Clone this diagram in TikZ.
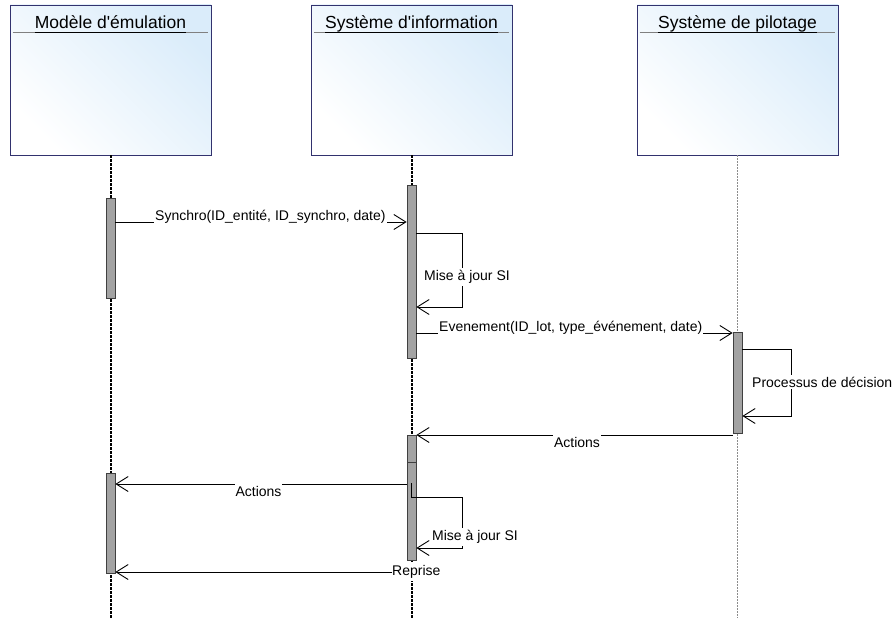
\documentclass[tikz,border=0pt]{standalone}
\usepackage{fontspec}
\setmainfont{Liberation Sans}
\usepackage{tikz}
\usetikzlibrary{arrows.meta, positioning, calc}

\definecolor{boxedge}{RGB}{50,50,110}
\definecolor{boxblue}{RGB}{218,236,250}
\definecolor{barfill}{RGB}{163,163,163}

\begin{document}
\begin{tikzpicture}[
    x=1pt, y=-1pt,
    lifebox/.style={rectangle, draw=boxedge, line width=0.9pt, shading=axis,
                    top color=boxblue, bottom color=white, shading angle=-45,
                    minimum width=201pt, minimum height=150pt, inner sep=0pt},
    title/.style={font=\fontsize{17.5}{20}\selectfont, inner sep=0pt},
    sep/.style={draw=black!50, line width=0.8pt},
    ul/.style={draw=black, line width=0.9pt},
    life/.style={draw=black, line width=2pt, dash pattern=on 3pt off 1pt},
    lifelight/.style={draw=black!45, line width=0.8pt, dash pattern=on 2pt off 1pt},
    bar/.style={rectangle, draw=black!75, fill=barfill, line width=0.7pt,
                minimum width=9pt, inner sep=0pt},
    msg/.style={draw=black, line width=0.9pt, -{Straight Barb[length=12pt, width=15pt]}},
    lbl/.style={fill=white, inner xsep=1pt, inner ysep=2pt,
                font=\fontsize{14}{16}\selectfont}
]
\useasboundingbox (0,0) rectangle (895,618);
\coordinate (bot) at (0,618);

% lifeline heads
\node[lifebox] (b1) at (110.5,80) {};
\node[lifebox] (b2) at (411.5,80) {};
\node[lifebox] (b3) at (737.5,80) {};

\foreach \b in {b1, b2, b3}
  \draw[sep] ([xshift=3pt, yshift=-28pt]\b.north west) -- ([xshift=-3pt, yshift=-28pt]\b.north east);

\node[title, anchor=base] (t1) at ([yshift=-24pt]b1.north) {Modèle d\textquotesingle émulation};
\node[title, anchor=base] (t2) at ([yshift=-24pt]b2.north) {Système d\textquotesingle information};
\node[title, anchor=base] (t3) at ([yshift=-24pt]b3.north) {Système de pilotage};

\foreach \t in {t1, t2, t3}
  \draw[ul] ([yshift=-4pt]\t.base west) -- ([yshift=-4pt]\t.base east);

% lifelines
\draw[life] (b1.south) -- (b1 |- bot);
\draw[life] (b2.south) -- (b2 |- bot);
\draw[lifelight] (b3.south) -- (b3 |- bot);

% activation bars
\node[bar, minimum height=100pt] (m1) at (110.5,248) {};
\node[bar, minimum height=100pt] (m2) at (110.5,523) {};
\node[bar, minimum height=173pt] (s1) at (411.5,271.5) {};
\node[bar, minimum height=27pt]  (s2) at (411.5,448.5) {};
\node[bar, minimum height=98pt]  (s3) at (411.5,511) {};
\node[bar, minimum height=101pt] (p1) at (737.5,382.5) {};

% message levels
\coordinate (ysyn) at (0,222);
\coordinate (ymaj) at (0,233);
\coordinate (cmaj) at (462,307);
\coordinate (yevt) at (0,333);
\coordinate (ydec) at (0,349);
\coordinate (cdec) at (791,416);
\coordinate (yact) at (0,435);
\coordinate (yret) at (0,484);
\coordinate (ym2a) at (0,483);
\coordinate (ym2b) at (0,497);
\coordinate (cm2) at (462,548);

% messages
\draw[msg] (m1.east |- ysyn) -- (s1.west |- ysyn);
\node[lbl, anchor=base west] (lsyn) at (154,220) {Synchro(ID\_entité, ID\_synchro, date)};

\draw[msg] (s1.east |- ymaj) -| (cmaj) -- (s1.east |- cmaj);
\node[lbl, anchor=west] (lmaj) at (423,277) {Mise à jour SI};

\draw[msg] (s1.east |- yevt) -- (p1.west |- yevt);
\node[lbl, anchor=base west] (levt) at (438,331) {Evenement(ID\_lot, type\_événement, date)};

\draw[msg] (p1.east |- ydec) -| (cdec) -- (p1.east |- cdec);
\node[lbl, anchor=west] (ldec) at (751,382) {Processus de décision};

\draw[msg] (p1.west |- yact) -- (s2.east |- yact);
\node[lbl, anchor=north] (lact) at (577,435) {Actions};

\draw[msg] (s3.west |- yret) -- (m2.east |- yret);
\node[lbl, anchor=north] (lret) at (258.5,484) {Actions};

\draw[msg] (s3.center |- ym2a) -- (s3.center |- ym2b) -| (cm2) -- (s3.east |- cm2);
\node[lbl, anchor=west] (lmaj2) at (431,537) {Mise à jour SI};

\node[lbl, anchor=west, inner xsep=0pt] (lrep) at (392,572) {Reprise};
\draw[msg] (lrep.west) -- (m2.east |- lrep.west);
\end{tikzpicture}
\end{document}
